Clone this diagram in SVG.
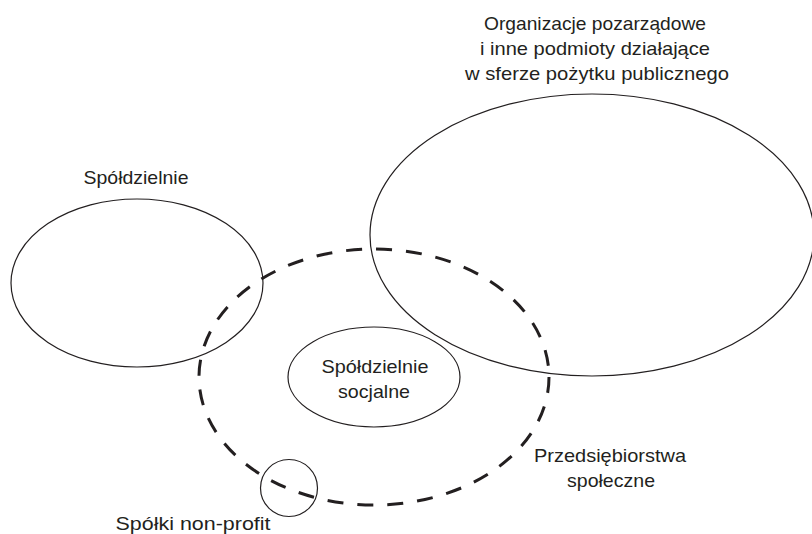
<svg xmlns="http://www.w3.org/2000/svg" width="812" height="534" viewBox="0 0 812 534">
<style>
.s{fill:none;stroke:#231f20;stroke-width:1.2}
.d{fill:none;stroke:#231f20;stroke-width:3;stroke-dasharray:16 14}
text{font-family:"Liberation Sans",Arial,sans-serif;font-size:19px;fill:#231f20;text-anchor:middle}
</style>
<rect width="812" height="534" fill="#ffffff"/>
<g id="organizacje">
<ellipse class="s" cx="592" cy="235" rx="222" ry="141"/>
<text x="595" y="30" textLength="222" lengthAdjust="spacingAndGlyphs">Organizacje pozarządowe</text>
<text x="595" y="55" textLength="230" lengthAdjust="spacingAndGlyphs">i inne podmioty działające</text>
<text x="597" y="80" textLength="264" lengthAdjust="spacingAndGlyphs">w sferze pożytku publicznego</text>
</g>
<g id="spoldzielnie">
<ellipse class="s" cx="137" cy="283" rx="126" ry="84"/>
<text x="136" y="184" textLength="105" lengthAdjust="spacingAndGlyphs">Spółdzielnie</text>
</g>
<g id="przedsiebiorstwa">
<ellipse class="d" cx="374" cy="377" rx="175" ry="128"/>
<text x="610" y="462" textLength="152" lengthAdjust="spacingAndGlyphs">Przedsiębiorstwa</text>
<text x="611" y="487" textLength="88" lengthAdjust="spacingAndGlyphs">społeczne</text>
</g>
<g id="socjalne">
<ellipse class="s" cx="374" cy="377" rx="86" ry="50"/>
<text x="375" y="373" textLength="107" lengthAdjust="spacingAndGlyphs">Spółdzielnie</text>
<text x="374" y="398" textLength="72" lengthAdjust="spacingAndGlyphs">socjalne</text>
</g>
<g id="spolki">
<circle class="s" cx="289" cy="488" r="28.5"/>
<text x="193" y="530" textLength="155" lengthAdjust="spacingAndGlyphs">Spółki non-profit</text>
</g>
<g id="connectors"></g>
</svg>
